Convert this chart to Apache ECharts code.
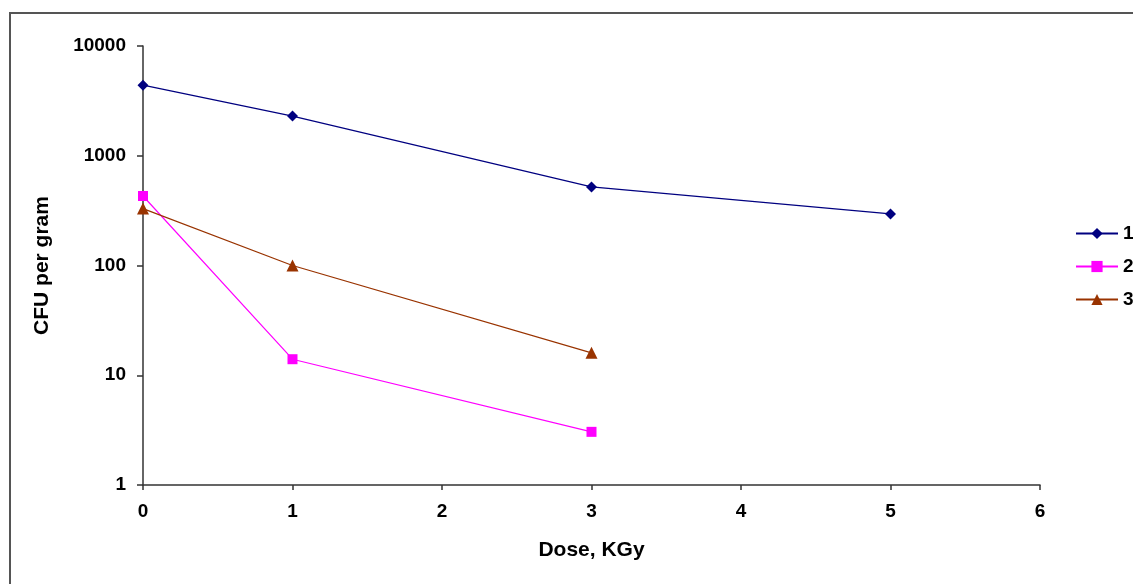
<!DOCTYPE html>
<html><head><meta charset="utf-8">
<script src="https://cdn.jsdelivr.net/npm/echarts@6/dist/echarts.min.js"></script>
<style>html,body{margin:0;padding:0;background:#fff}#c{width:1133px;height:584px}</style>
</head><body><div id="c"></div>
<script>
const seriesNames = ['1', '2', '3'];
const dose1 = [0, 1, 3, 5];
const cfu1 = [4400, 2300, 520, 295];
const dose2 = [0, 1, 3];
const cfu2 = [430, 14, 3.05];
const dose3 = [0, 1, 3];
const cfu3 = [330, 100, 16];
const colors = ['#000080', '#FF00FF', '#993300'];
const symbols = ['diamond', 'rect', 'triangle'];
const symbolSizes = [11, 10, 12];

const pairs = (xs, ys) => xs.map((x, i) => [x, ys[i]]);
const allData = [pairs(dose1, cfu1), pairs(dose2, cfu2), pairs(dose3, cfu3)];

const font = 'Arial, "Liberation Sans", sans-serif';
const chart = echarts.init(document.getElementById('c'), null, {renderer: 'canvas'});
chart.setOption({
  animation: false,
  backgroundColor: '#fff',
  graphic: [{type: 'rect', shape: {x: 10, y: 13, width: 1300, height: 800}, style: {fill: 'none', stroke: '#555', lineWidth: 2}, silent: true}],
  grid: {left: 143, top: 46, right: 93, bottom: 99},
  legend: {
    orient: 'vertical', left: 1075, top: 224, itemWidth: 42, itemHeight: 14, itemGap: 14, padding: 0,
    data: seriesNames,
    textStyle: {fontFamily: font, fontWeight: 'bold', fontSize: 19, color: '#000'}
  },
  xAxis: {
    type: 'value', min: 0, max: 6, interval: 1,
    name: 'Dose, KGy', nameLocation: 'middle', nameGap: 55,
    nameTextStyle: {fontFamily: font, fontWeight: 'bold', fontSize: 21, color: '#000'},
    axisLine: {lineStyle: {color: '#333', width: 1.5}},
    axisTick: {show: true, length: 5, lineStyle: {color: '#333', width: 1.5}},
    axisLabel: {margin: 17, fontFamily: font, fontWeight: 'bold', fontSize: 19, color: '#000'},
    splitLine: {show: false}
  },
  yAxis: {
    type: 'log', logBase: 10, min: 1, max: 10000,
    name: 'CFU per gram', nameLocation: 'middle', nameGap: 90, nameRotate: 90,
    nameTextStyle: {fontFamily: font, fontWeight: 'bold', fontSize: 21, color: '#000'},
    axisLine: {show: true, lineStyle: {color: '#333', width: 1.5}},
    axisTick: {show: true, length: 6, lineStyle: {color: '#333', width: 1.5}},
    minorTick: {show: false},
    axisLabel: {margin: 17, fontFamily: font, fontWeight: 'bold', fontSize: 19, color: '#000',
      formatter: v => String(Math.round(v))},
    splitLine: {show: false}
  },
  series: seriesNames.map((n, i) => ({
    name: n, type: 'line', data: allData[i],
    symbol: symbols[i], symbolSize: symbolSizes[i],
    lineStyle: {color: colors[i], width: 1.2},
    itemStyle: {color: colors[i]},
    color: colors[i]
  }))
});
</script></body></html>
